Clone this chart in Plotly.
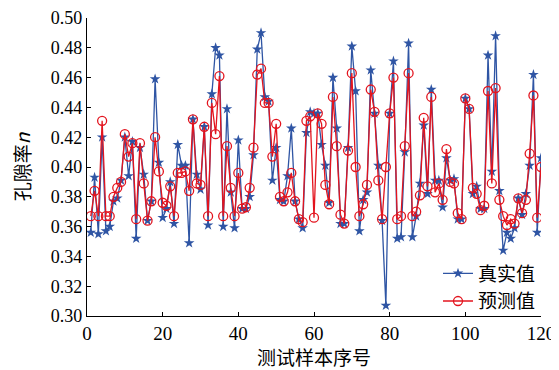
import plotly.graph_objects as go

sample_index = list(range(1, 121))

true_values = [
    0.356, 0.393, 0.355, 0.420, 0.357, 0.360, 0.377, 0.379, 0.391, 0.420,
    0.394, 0.417, 0.352, 0.413, 0.395, 0.364, 0.377, 0.459, 0.403, 0.366,
    0.372, 0.390, 0.362, 0.415, 0.401, 0.401, 0.349, 0.432, 0.395, 0.385,
    0.427, 0.361, 0.449, 0.480, 0.475, 0.360, 0.439, 0.383, 0.359, 0.418,
    0.372, 0.372, 0.380, 0.408, 0.479, 0.490, 0.447, 0.444, 0.391, 0.413,
    0.378, 0.377, 0.394, 0.426, 0.377, 0.365, 0.359, 0.423, 0.437, 0.436,
    0.436, 0.415, 0.401, 0.376, 0.460, 0.426, 0.362, 0.362, 0.413, 0.481,
    0.451, 0.357, 0.378, 0.383, 0.465, 0.436, 0.401, 0.364, 0.307, 0.436,
    0.471, 0.352, 0.353, 0.410, 0.483, 0.353, 0.367, 0.389, 0.428, 0.382,
    0.452, 0.391, 0.391, 0.373, 0.406, 0.391, 0.392, 0.365, 0.365, 0.446,
    0.439, 0.382, 0.387, 0.372, 0.372, 0.475, 0.397, 0.488, 0.384, 0.344,
    0.356, 0.352, 0.359, 0.379, 0.368, 0.382, 0.401, 0.462, 0.356, 0.406,
]

predicted_values = [
    0.367, 0.384, 0.367, 0.431, 0.367, 0.367, 0.380, 0.386, 0.390, 0.422,
    0.407, 0.416, 0.365, 0.416, 0.389, 0.364, 0.377, 0.420, 0.397, 0.376,
    0.374, 0.387, 0.367, 0.396, 0.396, 0.397, 0.384, 0.432, 0.389, 0.388,
    0.427, 0.367, 0.443, 0.422, 0.461, 0.367, 0.414, 0.386, 0.367, 0.396,
    0.372, 0.373, 0.386, 0.413, 0.462, 0.466, 0.443, 0.443, 0.407, 0.429,
    0.380, 0.377, 0.383, 0.396, 0.377, 0.365, 0.363, 0.431, 0.434, 0.366,
    0.436, 0.429, 0.388, 0.375, 0.447, 0.414, 0.368, 0.362, 0.411, 0.463,
    0.400, 0.367, 0.375, 0.388, 0.452, 0.437, 0.391, 0.365, 0.400, 0.436,
    0.460, 0.365, 0.367, 0.414, 0.463, 0.367, 0.370, 0.381, 0.433, 0.387,
    0.447, 0.383, 0.389, 0.378, 0.412, 0.390, 0.389, 0.369, 0.365, 0.446,
    0.439, 0.386, 0.382, 0.371, 0.374, 0.451, 0.389, 0.453, 0.378, 0.367,
    0.361, 0.365, 0.362, 0.379, 0.369, 0.378, 0.409, 0.448, 0.366, 0.400,
]

x_ticks = [0, 20, 40, 60, 80, 100, 120]
y_ticks = [0.30, 0.32, 0.34, 0.36, 0.38, 0.40, 0.42, 0.44, 0.46, 0.48, 0.50]

BLUE = "#2f55a4"
RED = "#e3141e"
SERIF = "Liberation Serif, Times New Roman, serif"
CJK = "Noto Sans CJK SC"

fig = go.Figure()
fig.add_trace(go.Scatter(
    x=sample_index, y=true_values, name="真实值",
    mode="lines+markers",
    line=dict(color=BLUE, width=1.3),
    marker=dict(symbol="star", size=8, color=BLUE, line=dict(width=0)),
))
fig.add_trace(go.Scatter(
    x=sample_index, y=predicted_values, name="预测值",
    mode="lines+markers",
    line=dict(color=RED, width=1.3),
    marker=dict(symbol="circle-open", size=9, color=RED, line=dict(width=1.3, color=RED)),
))

# page body has an 8px default margin, so the figure is offset by (8, 8)
fig.update_layout(
    width=551, height=362,
    margin=dict(l=79, r=18, t=10, b=53.5),
    paper_bgcolor="white", plot_bgcolor="white",
    showlegend=True,
    legend=dict(
        x=1.0, xanchor="right", y=-0.015, yanchor="bottom",
        bgcolor="rgba(0,0,0,0)",
        font=dict(family=CJK, size=19, color="black"),
        itemwidth=30, tracegroupgap=0,
    ),
    xaxis=dict(
        range=[0, 120], tickvals=x_ticks, automargin=False, ticklabeloverflow="allow",
        showline=True, linecolor="black", linewidth=1.2,
        ticks="inside", ticklen=4, tickcolor="black",
        showgrid=False, zeroline=False,
        tickfont=dict(family=SERIF, size=19, color="black"),
        title=dict(text="测试样本序号", font=dict(family=CJK, size=19, color="black"), standoff=0),
    ),
    yaxis=dict(
        range=[0.30, 0.50], tickvals=y_ticks, tickformat=".2f", automargin=False,
        ticklabeloverflow="allow",
        showline=True, linecolor="black", linewidth=1.2,
        ticks="inside", ticklen=4, tickcolor="black",
        showgrid=False, zeroline=False,
        tickfont=dict(family=SERIF, size=18, color="black"),
        title=dict(text="孔隙率<i>n</i>", font=dict(family=CJK, size=19, color="black"), standoff=18),
    ),
)

fig.write_html("out.html")
